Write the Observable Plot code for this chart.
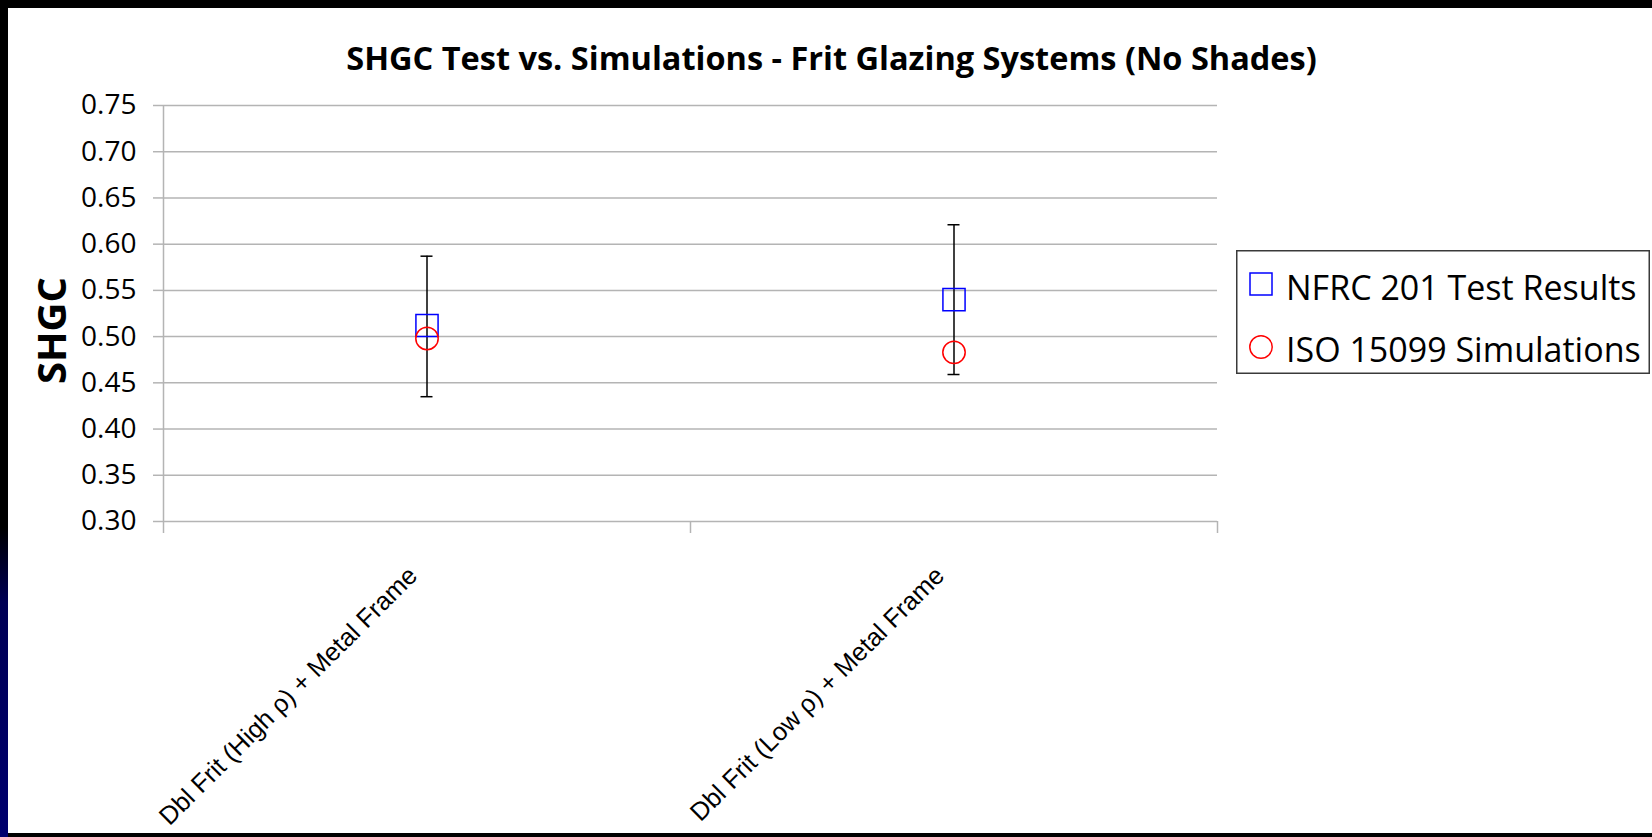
<!DOCTYPE html>
<html>
<head>
<meta charset="utf-8">
<script src="https://cdn.jsdelivr.net/npm/d3@7"></script>
<script src="https://cdn.jsdelivr.net/npm/@observablehq/plot@0.6"></script>
<style>
  html, body { margin: 0; padding: 0; background: #000; width: 1652px; height: 837px; overflow: hidden; }
  #leftstrip { position: absolute; left: 0; top: 0; width: 8px; height: 837px;
    background: linear-gradient(to bottom, #000 0%, #000 63%, #000055 72%, #00006e 100%); }
  #panel { position: absolute; left: 8px; top: 8px; width: 1644px; height: 825px; background: #fff; overflow: hidden; }
  #chart { position: absolute; left: 0; top: 0; }
  #legend { position: absolute; left: 1228px; top: 242px; }
</style>
</head>
<body>
<div id="leftstrip"></div>
<div id="panel">
  <div id="chart"></div>
  <div id="legend"></div>
</div>
<script>
// ---- data ----
const title = "SHGC Test vs. Simulations - Frit Glazing Systems (No Shades)";
const yLabel = "SHGC";
const categories = ["Dbl Frit (High ρ) + Metal Frame", "Dbl Frit (Low ρ) + Metal Frame"];
const seriesNames = ["NFRC 201 Test Results", "ISO 15099 Simulations"];
const nfrcValues = [0.512, 0.540];
const isoValues = [0.498, 0.483];
const errorLow = [0.435, 0.459];
const errorHigh = [0.587, 0.621];
const yTicks = [0.30, 0.35, 0.40, 0.45, 0.50, 0.55, 0.60, 0.65, 0.70, 0.75];
const categoryBoundaries = [0, 1, 2];

const rows = categories.map((c, i) => ({
  cat: c, pos: i + 0.5,
  nfrc: nfrcValues[i], iso: isoValues[i],
  lo: errorLow[i], hi: errorHigh[i]
}));

const gridColor = "#b4b4b4";

const chart = Plot.plot({
  width: 1644,
  height: 825,
  marginLeft: 155,
  marginTop: 97,
  marginRight: 435,
  marginBottom: 312,
  style: { background: "transparent", overflow: "visible" },
  x: { type: "linear", domain: [0, 2], axis: null },
  y: { domain: [0.30, 0.75], axis: null },
  marks: [
    Plot.ruleY(yTicks, { stroke: gridColor, strokeWidth: 1.5 }),
    Plot.ruleX([0], { y1: 0.30, y2: 0.75, stroke: gridColor, strokeWidth: 1.5 }),
    Plot.axisY({
      ticks: yTicks, tickSize: 10, tickPadding: 17, tickFormat: d3.format(".2f"),
      stroke: gridColor, strokeWidth: 1.5, fill: "#000",
      fontSize: 28, fontFamily: "Open Sans", label: null
    }),
    Plot.axisX({
      ticks: categoryBoundaries, tickSize: 12, tickFormat: () => "",
      stroke: gridColor, strokeWidth: 1.5, label: null
    }),
    Plot.text(rows, {
      x: "pos", frameAnchor: "bottom", text: "cat", rotate: -45, textAnchor: "end",
      lineAnchor: "middle", dx: -14, dy: 50, fontSize: 25.5, fontFamily: "Liberation Sans", fill: "#000"
    }),
    Plot.text([title], {
      frameAnchor: "top", textAnchor: "middle", lineAnchor: "bottom", dx: 141, dy: -36,
      fontSize: 32.5, fontWeight: "bold", fontFamily: "Open Sans", fill: "#000"
    }),
    Plot.text([yLabel], {
      frameAnchor: "left", rotate: -90, textAnchor: "middle", lineAnchor: "middle", dx: -110, dy: 17,
      fontSize: 40, fontWeight: "bold", fontFamily: "Open Sans", fill: "#000"
    }),
    // error bars
    Plot.ruleX(rows, { x: "pos", y1: "lo", y2: "hi", stroke: "#000", strokeWidth: 1.5 }),
    Plot.ruleY(rows, { y: "hi", x1: "pos", x2: "pos", insetLeft: -6, insetRight: -6, stroke: "#000", strokeWidth: 1.5 }),
    Plot.ruleY(rows, { y: "lo", x1: "pos", x2: "pos", insetLeft: -6, insetRight: -6, stroke: "#000", strokeWidth: 1.5 }),
    // markers
    Plot.dot(rows, { x: "pos", y: "nfrc", symbol: "square", r: 12.5, stroke: "#0000ff", strokeWidth: 1.5, fill: "none" }),
    Plot.dot(rows, { x: "pos", y: "iso", symbol: "circle", r: 11.2, stroke: "#ff0000", strokeWidth: 1.5, fill: "none" })
  ]
});
document.getElementById("chart").appendChild(chart);

// ---- legend ----
const lg = d3.select("#legend").append("svg").attr("width", 414).attr("height", 124);
lg.append("rect").attr("x", 0.75).attr("y", 0.75).attr("width", 412.5).attr("height", 122.5)
  .attr("fill", "#fff").attr("stroke", "#3a3a3a").attr("stroke-width", 1.5);
lg.append("rect").attr("x", 14).attr("y", 23).attr("width", 22).attr("height", 22)
  .attr("fill", "none").attr("stroke", "#0000ff").attr("stroke-width", 1.5);
lg.append("circle").attr("cx", 25).attr("cy", 97).attr("r", 11.2)
  .attr("fill", "none").attr("stroke", "#ff0000").attr("stroke-width", 1.5);
lg.selectAll("text.lbl").data(seriesNames).join("text")
  .attr("x", 50).attr("y", (d, i) => i === 0 ? 50 : 112)
  .attr("font-family", "Open Sans").attr("font-size", 34).attr("fill", "#000")
  .text(d => d);
</script>
</body>
</html>
